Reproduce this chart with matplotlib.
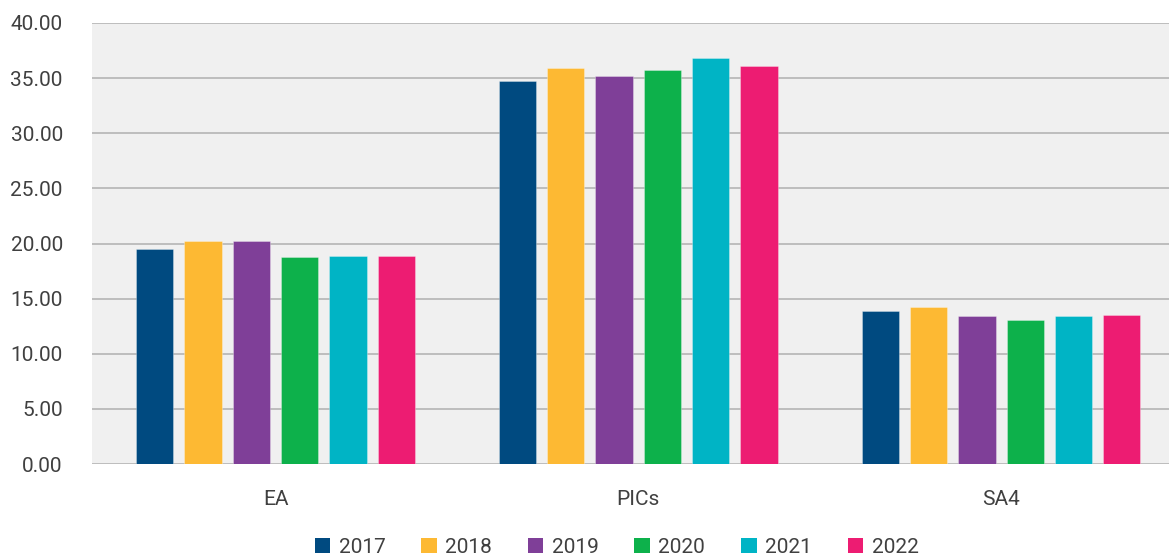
import matplotlib
matplotlib.use("Agg")
import matplotlib.pyplot as plt
import numpy as np

categories = ["EA", "PICs", "SA4"]
years = ["2017", "2018", "2019", "2020", "2021", "2022"]
v2017 = [19.5, 34.7, 13.9]
v2018 = [20.2, 35.9, 14.2]
v2019 = [20.2, 35.2, 13.4]
v2020 = [18.8, 35.7, 13.1]
v2021 = [18.9, 36.8, 13.4]
v2022 = [18.9, 36.1, 13.5]
series = [v2017, v2018, v2019, v2020, v2021, v2022]
colors = ["#004a80", "#fdb933", "#7f3f98", "#0db14b", "#00b4c5", "#ed1c72"]
yticks = [0, 5, 10, 15, 20, 25, 30, 35, 40]

plt.rcParams['font.family'] = ['Roboto', 'DejaVu Sans']
W, H = 1169, 558
fig = plt.figure(figsize=(W / 100, H / 100), dpi=100)
ax = fig.add_axes([92 / W, (H - 464) / H, 1 - 92 / W, (464 - 23) / H])
ax.set_facecolor("#f0f0f0")

x = np.arange(len(categories))
step = 0.1332
width = 0.1028
for i, (vals, col, yr) in enumerate(zip(series, colors, years)):
    ax.bar(x + (i - 2.5) * step, vals, width=width, color=col, label=yr,
           edgecolor=(1, 1, 1, 0.35), linewidth=0.6, zorder=3)

ax.set_ylim(0, 40)
ax.set_xlim(-0.506, 2.463)
ax.set_yticks(yticks)
ax.set_yticklabels([f"{t:.2f}" for t in yticks])
ax.set_xticks(x)
ax.set_xticklabels(categories)
ax.yaxis.grid(True, color="#b5b5b5", linewidth=1.2, zorder=1)
ax.set_axisbelow(True)
for s in ax.spines.values():
    s.set_visible(False)
ax.tick_params(axis="both", length=0, labelsize=15, labelcolor="#404040")
ax.tick_params(axis="y", pad=21)
ax.tick_params(axis="x", pad=19)

handles, labels = ax.get_legend_handles_labels()
leg = fig.legend(handles, labels, loc="lower center", ncol=6,
                 bbox_to_anchor=(616.5 / W, -0.032), frameon=False,
                 fontsize=15, handlelength=0.75, handleheight=0.75,
                 handletextpad=0.4, columnspacing=1.72)
for t in leg.get_texts():
    t.set_color("#404040")
for h in leg.legend_handles:
    h.set_edgecolor("none")

fig.savefig("out.png", dpi=100)
